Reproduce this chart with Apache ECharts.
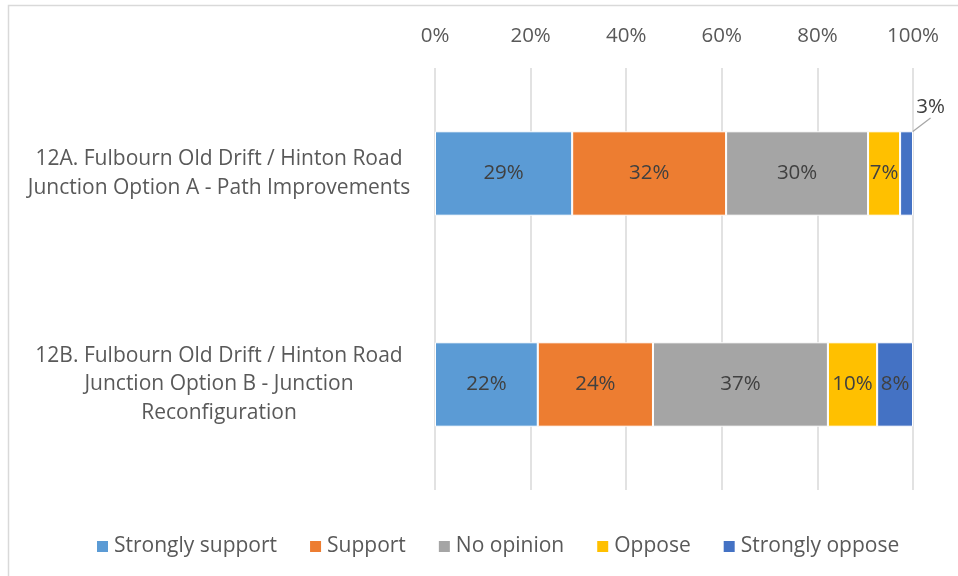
<!DOCTYPE html>
<html>
<head>
<meta charset="utf-8">
<script src="https://cdn.jsdelivr.net/npm/echarts@6/dist/echarts.min.js"></script>
<style>html,body{margin:0;padding:0;background:#fff}#c{width:958px;height:576px}</style>
</head>
<body>
<div id="c"></div>
<script>
const categories = [
  "12A. Fulbourn Old Drift / Hinton Road\nJunction Option A - Path Improvements",
  "12B. Fulbourn Old Drift / Hinton Road\nJunction Option B - Junction\nReconfiguration"
];
const seriesNames = ["Strongly support", "Support", "No opinion", "Oppose", "Strongly oppose"];
const stronglySupport = [28.7, 21.5];
const support = [32.2, 24.1];
const noOpinion = [29.7, 36.6];
const oppose = [6.7, 10.3];
const stronglyOppose = [2.7, 7.5];
const colors = ["#5b9bd5", "#ed7d31", "#a5a5a5", "#ffc000", "#4472c4"];
const tickLabels = ["0%", "20%", "40%", "60%", "80%", "100%"];

const FONT = "'Open Sans', 'Noto Sans', sans-serif";
const valuesList = [stronglySupport, support, noOpinion, oppose, stronglyOppose];

const chart = echarts.init(document.getElementById('c'), null, {renderer: 'canvas'});
chart.setOption({
  animation: false,
  backgroundColor: '#fff',
  textStyle: {fontFamily: FONT},
  graphic: [{
    type: 'rect', shape: {x: 8.5, y: 5.5, width: 1200, height: 1200},
    style: {fill: 'none', stroke: '#d9d9d9', lineWidth: 1.5}, silent: true, z: -1
  }],
  grid: {left: 435, right: 45, top: 68, bottom: 86, containLabel: false, outerBoundsMode: 'none'},
  legend: {
    bottom: 14, left: 90, itemWidth: 13, itemHeight: 13, itemGap: 31,
    icon: 'rect',
    textStyle: {fontFamily: FONT, fontSize: 21, color: '#595959'},
    data: seriesNames
  },
  xAxis: {
    type: 'value', position: 'top', min: 0, max: 100, interval: 20,
    axisLine: {show: false}, axisTick: {show: false},
    splitLine: {show: true, lineStyle: {color: '#d9d9d9', width: 1.5}},
    axisLabel: {
      margin: 21, fontFamily: FONT, fontSize: 20.5, color: '#595959',
      formatter: v => tickLabels[Math.round(v / 20)]
    }
  },
  yAxis: {
    type: 'category', inverse: true, data: categories,
    axisLine: {show: false}, axisTick: {show: false},
    axisLabel: {
      margin: 216, fontFamily: FONT, fontSize: 21, color: '#595959',
      lineHeight: 28.5, align: 'center', overflow: 'none', width: 500
    }
  },
  series: seriesNames.map((name, i) => ({
    name: name, type: 'bar', stack: 'total', barWidth: '40%',
    itemStyle: {color: colors[i], borderColor: '#fff', borderWidth: 1},
    label: {
      show: true, position: 'inside', fontFamily: FONT, fontSize: 20.5, color: '#404040',
      formatter: p => Math.round(p.value) + '%'
    },
    labelLine: {show: true, lineStyle: {color: '#a6a6a6', width: 1.2}},
    labelLayout: (i === 4) ? (p => p.dataIndex === 0 ? {dx: 24, dy: -66} : {}) : undefined,
    data: valuesList[i]
  }))
});
</script>
</body>
</html>
